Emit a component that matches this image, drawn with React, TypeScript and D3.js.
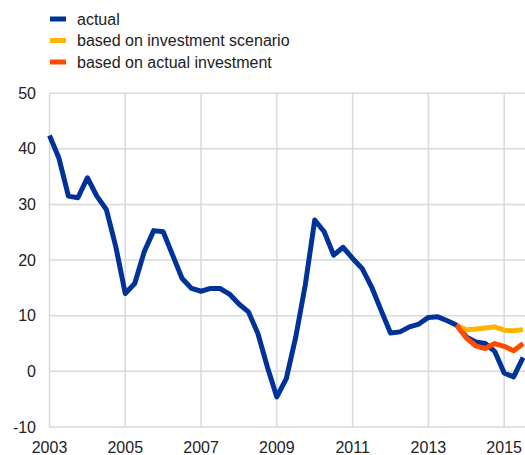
import React from "react";
import * as d3 from "d3";

// quarterly, starting 2003 Q1
const actual = [
  42.4, 38.3, 31.5, 31.2, 34.8, 31.5, 29.1, 22.4, 14.0, 15.8, 21.5, 25.3,
  25.1, 20.9, 16.7, 14.9, 14.4, 14.9, 14.9, 13.9, 12.1, 10.7, 6.8, 0.8,
  -4.6, -1.3, 6.2, 15.5, 27.2, 25.1, 20.9, 22.3, 20.3, 18.5, 15.2, 11.0,
  6.9, 7.1, 8.0, 8.5, 9.7, 9.8, 9.1, 8.3, 6.2, 5.3, 5.0, 3.6,
  -0.3, -1.0, 2.5,
];
// both scenarios start at 2013 Q4
const scenarioStart = 43;
const investmentScenario = [8.3, 7.5, 7.6, 7.8, 8.0, 7.4, 7.3, 7.5];
const actualInvestment = [8.3, 6.0, 4.6, 4.1, 5.0, 4.5, 3.7, 5.0];

const yTicks = [50, 40, 30, 20, 10, 0, -10];
const xTicks = [2003, 2005, 2007, 2009, 2011, 2013, 2015];

const legendItems = [
  { label: "actual", color: "#003299" },
  { label: "based on investment scenario", color: "#FFB400" },
  { label: "based on actual investment", color: "#FF4B00" },
];

const W = 525;
const H = 455;
const FONT = "'Liberation Sans', Arial, sans-serif";

export default function App() {
  const x = d3.scaleLinear().domain([2003, 2015.55]).range([49.5, 525]);
  const y = d3.scaleLinear().domain([-10, 50]).range([427, 93.2]);

  const line = d3
    .line<{ t: number; v: number }>()
    .x((d) => x(d.t))
    .y((d) => y(d.v));

  const toPts = (vals: number[], start: number) =>
    vals.map((v, i) => ({ t: 2003 + (start + i) / 4, v }));

  return (
    <svg
      width={W}
      height={H}
      style={{ position: "absolute", left: 0, top: 0, fontFamily: FONT }}
    >
      {/* gridlines */}
      {yTicks.map((t) => (
        <line
          key={"gy" + t}
          x1={x(2003)}
          x2={W}
          y1={y(t)}
          y2={y(t)}
          stroke="#d9d9d9"
          strokeWidth={1.5}
        />
      ))}
      {xTicks.map((t) => (
        <line
          key={"gx" + t}
          x1={x(t)}
          x2={x(t)}
          y1={y(50)}
          y2={y(-10)}
          stroke="#d9d9d9"
          strokeWidth={1.5}
        />
      ))}

      {/* tick labels */}
      {yTicks.map((t) => (
        <text
          key={"ly" + t}
          x={36}
          y={y(t)}
          dy="0.35em"
          textAnchor="end"
          fontSize={16}
          fill="#222"
        >
          {t}
        </text>
      ))}
      {xTicks.map((t) => (
        <text
          key={"lx" + t}
          x={x(t)}
          y={453}
          textAnchor="middle"
          fontSize={16}
          fill="#222"
        >
          {t}
        </text>
      ))}

      {/* series */}
      <path
        d={line(toPts(actual, 0)) ?? ""}
        fill="none"
        stroke="#003299"
        strokeWidth={5}
        strokeLinejoin="round"
      />
      <path
        d={line(toPts(investmentScenario, scenarioStart)) ?? ""}
        fill="none"
        stroke="#FFB400"
        strokeWidth={5}
        strokeLinejoin="round"
      />
      <path
        d={line(toPts(actualInvestment, scenarioStart)) ?? ""}
        fill="none"
        stroke="#FF4B00"
        strokeWidth={5}
        strokeLinejoin="round"
      />

      {/* legend */}
      {legendItems.map((d, i) => (
        <g key={d.label} transform={`translate(0, ${19 + i * 21.5})`}>
          <rect x={50} y={-2.5} width={16} height={5} fill={d.color} />
          <text x={77} y={0} dy="0.35em" fontSize={16} fill="#222">
            {d.label}
          </text>
        </g>
      ))}
    </svg>
  );
}
